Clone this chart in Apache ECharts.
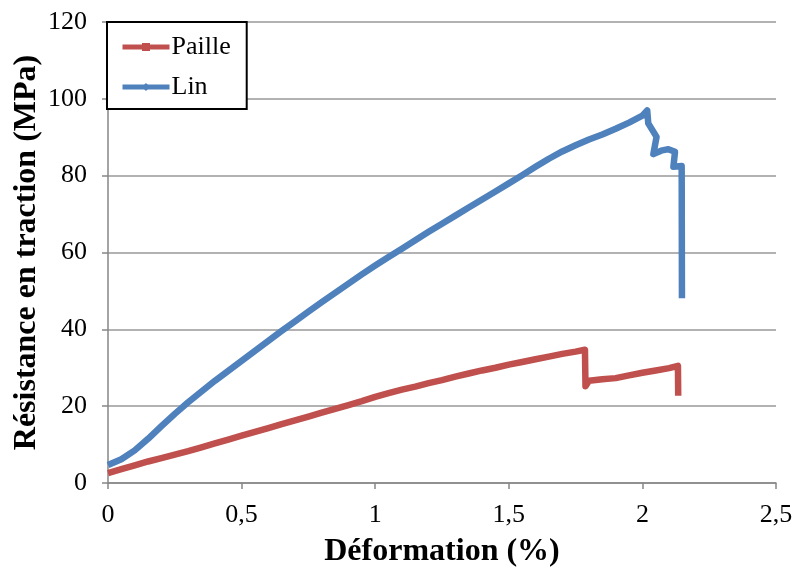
<!DOCTYPE html>
<html>
<head>
<meta charset="utf-8">
<script src="https://cdn.jsdelivr.net/npm/echarts@6/dist/echarts.min.js"></script>
<style>html,body{margin:0;padding:0;background:#fff;}#c{width:793px;height:569px;}</style>
</head>
<body>
<div id="c"></div>
<script>
// Déformation (%) / Résistance (MPa)
const seriesNames = ['Paille', 'Lin'];
const pailleX = [0,0.05,0.1,0.15,0.2,0.25,0.3,0.35,0.4,0.45,0.5,0.55,0.6,0.65,0.7,0.75,0.8,0.85,0.9,0.95,1.0,1.05,1.1,1.15,1.2,1.25,1.3,1.35,1.4,1.45,1.5,1.55,1.6,1.65,1.7,1.75,1.785,1.787,1.80,1.85,1.9,1.95,2.0,2.05,2.1,2.133,2.134];
const pailleY = [2.6,3.6,4.6,5.6,6.5,7.4,8.3,9.3,10.3,11.3,12.3,13.3,14.3,15.3,16.3,17.3,18.3,19.3,20.3,21.3,22.4,23.4,24.3,25.1,26.0,26.8,27.7,28.5,29.3,30.0,30.8,31.5,32.2,32.9,33.6,34.2,34.7,25.2,26.6,27.0,27.3,28.0,28.7,29.3,29.9,30.5,22.7];
const linX = [0,0.05,0.1,0.15,0.2,0.25,0.3,0.35,0.4,0.45,0.5,0.55,0.6,0.65,0.7,0.75,0.8,0.85,0.9,0.95,1.0,1.05,1.1,1.15,1.2,1.25,1.3,1.35,1.4,1.45,1.5,1.55,1.6,1.65,1.7,1.75,1.8,1.85,1.9,1.95,2.0,2.018,2.022,2.053,2.041,2.07,2.097,2.122,2.116,2.147,2.148];
const linY = [4.7,6.2,8.5,11.5,14.8,18.0,21.0,23.8,26.6,29.2,31.8,34.4,37.0,39.6,42.1,44.6,47.1,49.5,51.9,54.3,56.6,58.8,61.0,63.2,65.4,67.5,69.6,71.7,73.8,75.9,78.0,80.1,82.3,84.4,86.3,87.9,89.4,90.7,92.2,93.8,95.6,97.0,93.6,90.1,85.6,86.5,86.9,86.2,82.3,82.5,48.1];
const xTicks = [0,0.5,1,1.5,2,2.5];

const FONT = '"Liberation Serif", "Times New Roman", serif';
const pailleData = pailleX.map((x,i)=>[x,pailleY[i]]);
const linData = linX.map((x,i)=>[x,linY[i]]);

const chart = echarts.init(document.getElementById('c'), null, {renderer:'canvas'});
chart.setOption({
  animation:false,
  backgroundColor:'#fff',
  textStyle:{fontFamily:FONT},
  grid:{left:108, right:17, top:22, bottom:86, containLabel:false, outerBoundsMode:'none'},
  legend:{
    data:seriesNames,
    orient:'vertical',
    left:107, top:22,
    backgroundColor:'#fff',
    borderColor:'#000', borderWidth:2, borderRadius:0,
    padding:[12,16,9,13],
    itemWidth:47, itemHeight:10, itemGap:14,
    lineStyle:{width:5},
    textStyle:{fontFamily:FONT, fontSize:26, color:'#000', padding:[0,0,0,-3]}
  },
  xAxis:{
    type:'value', min:0, max:2.5, interval:0.5,
    name:'Déformation (%)', nameLocation:'middle', nameGap:53, nameMoveOverlap:false,
    nameTextStyle:{fontFamily:FONT, fontSize:32, fontWeight:'bold', color:'#000'},
    axisLine:{show:true, lineStyle:{color:'#868686', width:1.5}},
    axisTick:{show:true, length:6, lineStyle:{color:'#868686', width:1.5}},
    axisLabel:{fontFamily:FONT, fontSize:26, color:'#000', margin:19,
      formatter:v=>String(v).replace('.',',')},
    splitLine:{show:false}
  },
  yAxis:{
    type:'value', min:0, max:120, interval:20,
    name:'Résistance en traction (MPa)', nameLocation:'middle', nameGap:65, nameMoveOverlap:false,
    nameTextStyle:{fontFamily:FONT, fontSize:32, fontWeight:'bold', color:'#000'},
    axisLine:{show:true, lineStyle:{color:'#868686', width:1.5}},
    axisTick:{show:true, length:6, lineStyle:{color:'#868686', width:1.5}},
    axisLabel:{fontFamily:FONT, fontSize:26, color:'#000', margin:21},
    splitLine:{show:true, lineStyle:{color:'#989898', width:1.5}}
  },
  series:[
    {name:seriesNames[0], type:'line', data:pailleData, color:'#C0504D',
     symbol:'rect', symbolSize:6, showSymbol:false,
     lineStyle:{width:6.5, color:'#C0504D', join:'round'}, z:3},
    {name:seriesNames[1], type:'line', data:linData, color:'#4F81BD',
     symbol:'diamond', symbolSize:7, showSymbol:false,
     lineStyle:{width:6.5, color:'#4F81BD', join:'round'}, z:4}
  ]
});
</script>
</body>
</html>
